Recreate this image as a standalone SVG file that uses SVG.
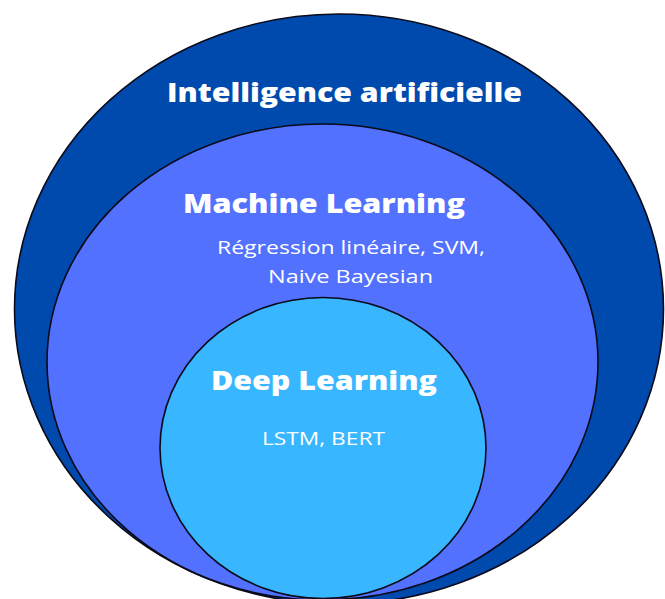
<svg xmlns="http://www.w3.org/2000/svg" width="665" height="599" viewBox="0 0 665 599">
<style>
.e{stroke:#0a0a1a;stroke-width:1.6}
.t{font-family:"Open Sans","Noto Sans","Liberation Sans",sans-serif;fill:#ffffff;text-anchor:middle}
.b{font-weight:800;font-size:26px}
.r{font-size:18px}
</style>
<rect width="665" height="599" fill="#ffffff"/>
<g id="ia">
<ellipse class="e" cx="339" cy="309" rx="324.5" ry="295" fill="#004AAD"/>
<text class="t b" x="344.5" y="102" textLength="355" lengthAdjust="spacingAndGlyphs">Intelligence artificielle</text>
</g>
<g id="ml">
<ellipse class="e" cx="322.5" cy="362" rx="275.5" ry="238" fill="#5271FF"/>
<text class="t b" x="324" y="213" textLength="282" lengthAdjust="spacingAndGlyphs">Machine Learning</text>
<text class="t r" x="351" y="254" textLength="268" lengthAdjust="spacingAndGlyphs">Régression linéaire, SVM,</text>
<text class="t r" x="350.5" y="283" textLength="165" lengthAdjust="spacingAndGlyphs">Naive Bayesian</text>
</g>
<g id="dl">
<ellipse class="e" cx="323" cy="448" rx="163" ry="150.5" fill="#38B6FF"/>
<text class="t b" x="324" y="390" textLength="226" lengthAdjust="spacingAndGlyphs">Deep Learning</text>
<text class="t r" x="323.5" y="445" textLength="123" lengthAdjust="spacingAndGlyphs">LSTM, BERT</text>
</g>
<g id="connectors"/>
</svg>
